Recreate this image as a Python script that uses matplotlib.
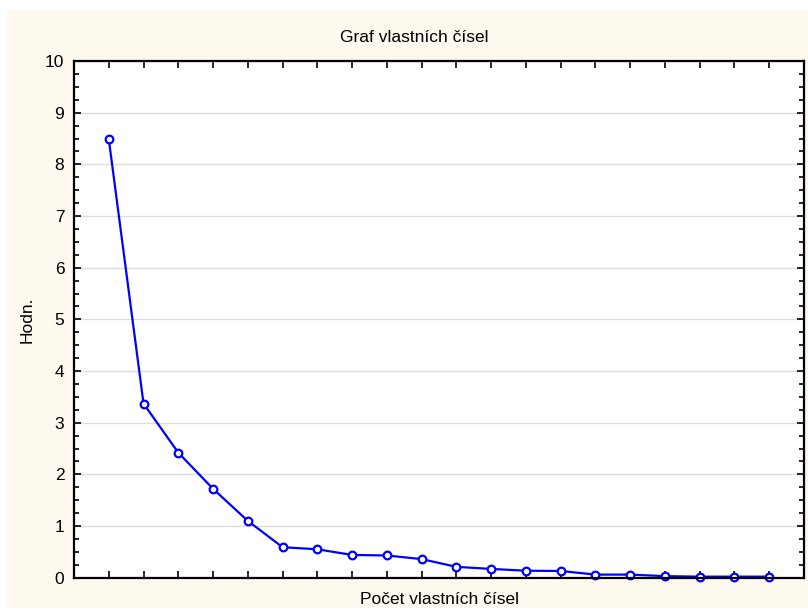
import numpy as np
import matplotlib.pyplot as plt
from matplotlib.patches import Rectangle
from matplotlib.ticker import MultipleLocator

# eigenvalues (scree plot)
poradi = list(range(1, 21))
hodnoty = [8.49, 3.37, 2.42, 1.72, 1.10, 0.59, 0.55, 0.44, 0.43, 0.36,
           0.21, 0.17, 0.135, 0.13, 0.06, 0.06, 0.03, 0.02, 0.02, 0.02]
y_ticks = list(range(0, 11))

title = "Graf vlastních čísel"
xlabel = "Počet vlastních čísel"
ylabel = "Hodn."


def plot_scree():
    plt.rcParams['font.family'] = ['Liberation Sans', 'DejaVu Sans']
    bg = "#fdf9ef"

    fig = plt.figure(figsize=(8.08, 6.14), dpi=100)
    fig.patch.set_facecolor("white")
    # cream panel behind the chart
    fig.patches.append(Rectangle((7 / 808, 6 / 614), 801 / 808, 598 / 614,
                                 transform=fig.transFigure, facecolor=bg,
                                 edgecolor="none", zorder=-10))

    ax = fig.add_axes([74 / 808, 1 - 577.7 / 614, 730 / 808, 516.7 / 614])
    ax.set_facecolor("white")

    ax.plot(poradi, hodnoty, color="#0000ff", linewidth=1.6, marker="o",
            markersize=5.5, markerfacecolor="white", markeredgecolor="#0000ff",
            markeredgewidth=1.6, clip_on=False, zorder=3)

    ax.set_xlim(0, 21)
    ax.set_ylim(0, 10)
    ax.set_xticks(poradi)
    ax.set_xticklabels([])
    ax.set_yticks(y_ticks)
    ax.yaxis.set_minor_locator(MultipleLocator(0.25))
    ax.tick_params(axis="both", which="major", direction="in", length=5,
                   width=1.2, top=True, right=True, labelsize=12.5, pad=7)
    ax.tick_params(axis="y", which="minor", direction="in", length=3.5,
                   width=1.2, left=True, right=True)
    ax.grid(axis="y", color="#dcdcdc", linewidth=1)
    ax.set_axisbelow(True)
    for s in ax.spines.values():
        s.set_linewidth(1.6)
        s.set_zorder(4)

    fig.text(414 / 808, 1 - 37 / 614, title, ha="center", va="center",
             fontsize=12.5)
    fig.text(439 / 808, 1 - 600 / 614, xlabel, ha="center", va="center",
             fontsize=12.5)
    fig.text(27 / 808, 1 - 320 / 614, ylabel, ha="center", va="center",
             rotation=90, fontsize=12.5)

    fig.savefig("out.png", dpi=100, facecolor=fig.get_facecolor())


if __name__ == "__main__":
    plot_scree()
